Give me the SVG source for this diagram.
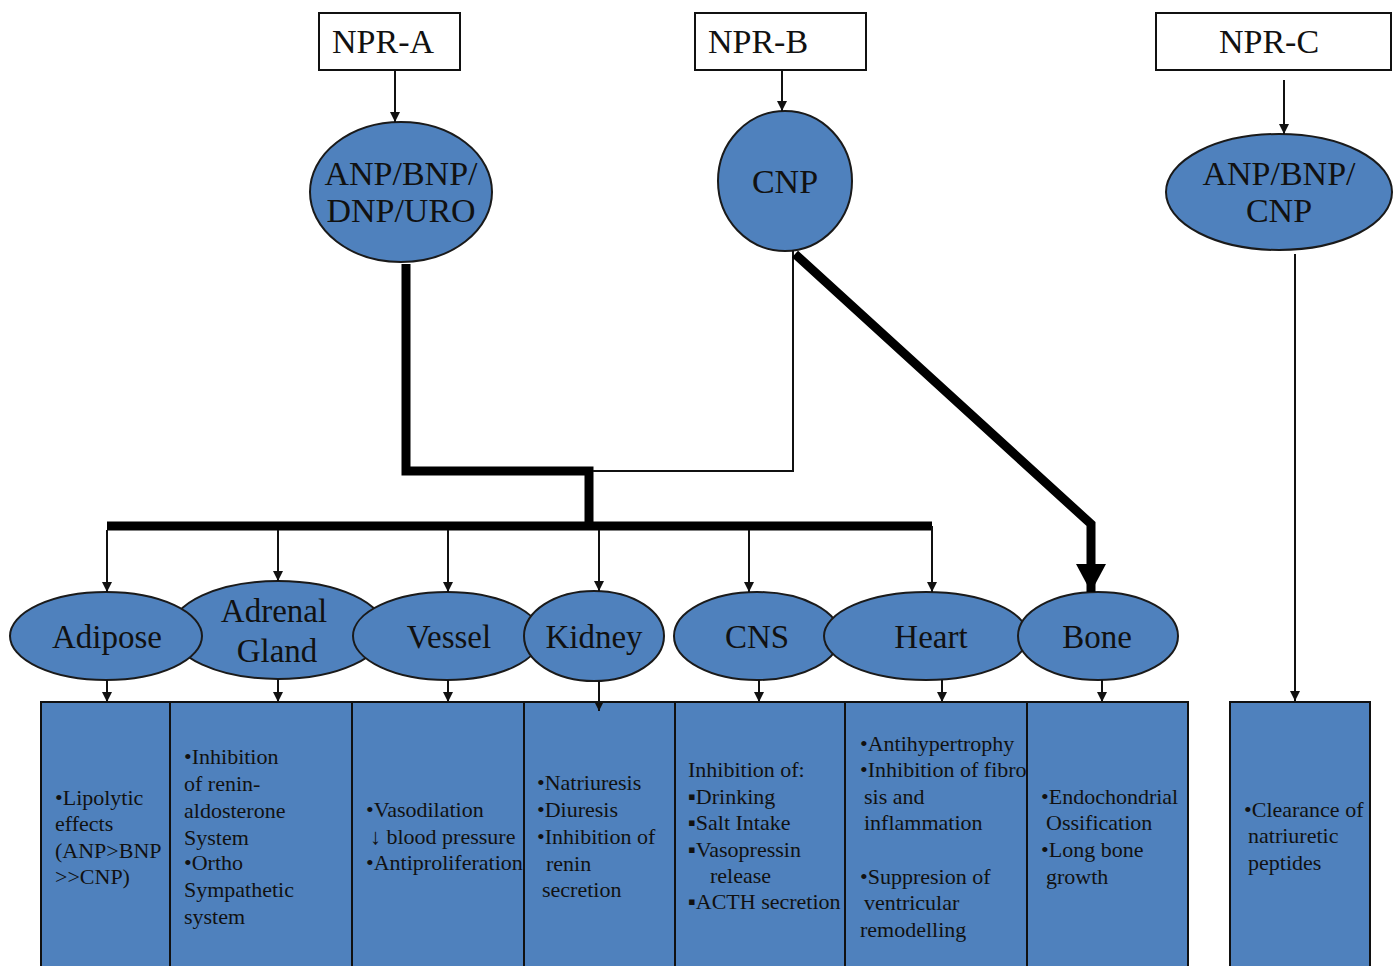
<svg xmlns="http://www.w3.org/2000/svg" width="1397" height="966" viewBox="0 0 1397 966">
<style>
text{font-family:"Liberation Serif","DejaVu Serif","Noto Serif",serif;fill:#111}
.rb{fill:#fff;stroke:#111;stroke-width:2}
.el{fill:#4f81bd;stroke:#1a1a1a;stroke-width:2}
.bx{fill:#4f81bd;stroke:#111;stroke-width:2}
.lbl{font-size:33px;text-anchor:middle}
.big{font-size:34px;text-anchor:middle}
.t{font-size:22px}
.thin{fill:none;stroke:#111;stroke-width:2}
.thick{fill:none;stroke:#000;stroke-width:9;stroke-linejoin:miter}
</style>
<defs>
<marker id="ah" markerUnits="userSpaceOnUse" markerWidth="10" markerHeight="10" refX="10" refY="5" orient="auto"><path d="M0,0 L10,5 L0,10 z" fill="#111"/></marker>
<marker id="bah" markerUnits="userSpaceOnUse" markerWidth="28" markerHeight="30" refX="28" refY="15" orient="auto"><path d="M0,0 L28,15 L0,30 z" fill="#000"/></marker>
</defs>

<g id="npr-a"><rect class="rb" x="319" y="13" width="141" height="57"/><text class="big" x="383" y="53">NPR-A</text></g>
<g id="npr-b"><rect class="rb" x="695" y="13" width="171" height="57"/><text class="big" x="758" y="53">NPR-B</text></g>
<g id="npr-c"><rect class="rb" x="1156" y="13" width="235" height="57"/><text class="big" x="1269" y="53">NPR-C</text></g>

<g id="anp-bnp-dnp-uro"><ellipse class="el" cx="401" cy="192" rx="91" ry="70"/><text class="big" x="401" y="185">ANP/BNP/</text><text class="big" x="401" y="222">DNP/URO</text></g>
<g id="cnp"><ellipse class="el" cx="785" cy="181" rx="67" ry="70"/><text class="big" x="785" y="193">CNP</text></g>
<g id="anp-bnp-cnp"><ellipse class="el" cx="1279" cy="192" rx="113" ry="58"/><text class="big" x="1279" y="185">ANP/BNP/</text><text class="big" x="1279" y="222">CNP</text></g>

<g id="adrenal"><ellipse class="el" cx="278" cy="630" rx="107" ry="49"/><text class="lbl" x="274" y="622">Adrenal</text><text class="lbl" x="277" y="662">Gland</text></g>
<g id="adipose"><ellipse class="el" cx="106" cy="636" rx="96" ry="44"/><text class="lbl" x="107" y="648">Adipose</text></g>
<g id="vessel"><ellipse class="el" cx="447" cy="636" rx="94" ry="44"/><text class="lbl" x="449" y="648">Vessel</text></g>
<g id="kidney"><ellipse class="el" cx="594" cy="636" rx="70" ry="45"/><text class="lbl" x="594" y="648">Kidney</text></g>
<g id="cns"><ellipse class="el" cx="757" cy="636" rx="83" ry="44"/><text class="lbl" x="757" y="648">CNS</text></g>
<g id="heart"><ellipse class="el" cx="926" cy="636" rx="102" ry="44"/><text class="lbl" x="931" y="648">Heart</text></g>
<g id="bone"><ellipse class="el" cx="1098" cy="636" rx="80" ry="44"/><text class="lbl" x="1097" y="648">Bone</text></g>

<g id="box-adipose"><rect class="bx" x="41" y="702" width="129" height="270"/>
<text class="t" x="55" y="805">•Lipolytic</text><text class="t" x="55" y="831">effects</text><text class="t" x="55" y="858">(ANP&gt;BNP</text><text class="t" x="55" y="884">&gt;&gt;CNP)</text></g>
<g id="box-adrenal"><rect class="bx" x="170" y="702" width="182" height="270"/>
<text class="t" x="184" y="764">•Inhibition</text><text class="t" x="184" y="791">of renin-</text><text class="t" x="184" y="818">aldosterone</text><text class="t" x="184" y="845">System</text><text class="t" x="184" y="870">•Ortho</text><text class="t" x="184" y="897">Sympathetic</text><text class="t" x="184" y="924">system</text></g>
<g id="box-vessel"><rect class="bx" x="352" y="702" width="172" height="270"/>
<text class="t" x="366" y="817">•Vasodilation</text><text class="t" x="370" y="844">↓ blood pressure</text><text class="t" x="366" y="870">•Antiproliferation</text></g>
<g id="box-kidney"><rect class="bx" x="524" y="702" width="151" height="270"/>
<text class="t" x="537" y="790">•Natriuresis</text><text class="t" x="537" y="817">•Diuresis</text><text class="t" x="537" y="844">•Inhibition of</text><text class="t" x="546" y="871">renin</text><text class="t" x="542" y="897">secretion</text></g>
<g id="box-cns"><rect class="bx" x="675" y="702" width="170" height="270"/>
<text class="t" x="688" y="777">Inhibition of:</text><text class="t" x="688" y="804">▪Drinking</text><text class="t" x="688" y="830">▪Salt Intake</text><text class="t" x="688" y="857">▪Vasopressin</text><text class="t" x="710" y="883">release</text><text class="t" x="688" y="909">▪ACTH secretion</text></g>
<g id="box-heart"><rect class="bx" x="845" y="702" width="182" height="270"/>
<text class="t" x="860" y="751">•Antihypertrophy</text><text class="t" x="860" y="777">•Inhibition of fibro</text><text class="t" x="864" y="804">sis  and</text><text class="t" x="864" y="830">inflammation</text><text class="t" x="860" y="884">•Suppresion of</text><text class="t" x="864" y="910">ventricular</text><text class="t" x="860" y="937">remodelling</text></g>
<g id="box-bone"><rect class="bx" x="1027" y="702" width="161" height="270"/>
<text class="t" x="1041" y="804">•Endochondrial</text><text class="t" x="1046" y="830">Ossification</text><text class="t" x="1041" y="857">•Long bone</text><text class="t" x="1046" y="884">growth</text></g>
<g id="box-clearance"><rect class="bx" x="1230" y="702" width="140" height="270"/>
<text class="t" x="1244" y="817">•Clearance of</text><text class="t" x="1248" y="843">natriuretic</text><text class="t" x="1248" y="870">peptides</text></g>

<g id="connectors">
<line class="thin" x1="395" y1="70" x2="395" y2="122" marker-end="url(#ah)"/>
<line class="thin" x1="782" y1="70" x2="782" y2="111" marker-end="url(#ah)"/>
<line class="thin" x1="1284" y1="80" x2="1284" y2="134" marker-end="url(#ah)"/>
<line class="thin" x1="1295" y1="254" x2="1295" y2="701" marker-end="url(#ah)"/>
<polyline class="thick" points="406,264 406,471 589,471 589,526"/>
<polyline class="thin" points="793,250 793,471 593,471"/>
<line class="thick" x1="107" y1="526" x2="932" y2="526"/>
<polyline class="thick" points="795,254 1091,524 1091,592" marker-end="url(#bah)"/>
<line class="thin" x1="107" y1="530" x2="107" y2="592" marker-end="url(#ah)"/>
<line class="thin" x1="278" y1="530" x2="278" y2="581" marker-end="url(#ah)"/>
<line class="thin" x1="448" y1="530" x2="448" y2="592" marker-end="url(#ah)"/>
<line class="thin" x1="599" y1="530" x2="599" y2="591" marker-end="url(#ah)"/>
<line class="thin" x1="749" y1="530" x2="749" y2="592" marker-end="url(#ah)"/>
<line class="thin" x1="932" y1="526" x2="932" y2="592" marker-end="url(#ah)"/>
<line class="thin" x1="107" y1="680" x2="107" y2="702" marker-end="url(#ah)"/>
<line class="thin" x1="278" y1="679" x2="278" y2="702" marker-end="url(#ah)"/>
<line class="thin" x1="448" y1="680" x2="448" y2="702" marker-end="url(#ah)"/>
<line class="thin" x1="599" y1="681" x2="599" y2="711" marker-end="url(#ah)"/>
<line class="thin" x1="759" y1="680" x2="759" y2="702" marker-end="url(#ah)"/>
<line class="thin" x1="942" y1="680" x2="942" y2="702" marker-end="url(#ah)"/>
<line class="thin" x1="1102" y1="680" x2="1102" y2="702" marker-end="url(#ah)"/>
</g>
</svg>
